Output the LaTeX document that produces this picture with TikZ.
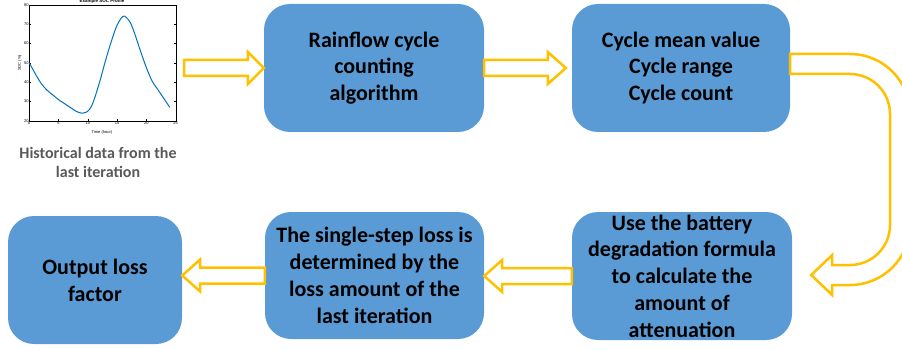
\documentclass[tikz,border=0pt]{standalone}
\usepackage{fontspec}
\setmainfont{Carlito}
\newfontfamily\plotfont{Liberation Sans}
\usetikzlibrary{calc}
\definecolor{boxblue}{HTML}{5B9BD5}
\definecolor{arrowgold}{HTML}{FFC000}
\definecolor{capgray}{HTML}{595959}
\definecolor{mblue}{HTML}{0072BD}
\begin{document}
\begin{tikzpicture}[x=1pt,y=-1pt,
  box/.style={fill=boxblue, draw=none, rounded corners=26pt, inner sep=0pt,
    font=\fontsize{22}{26.8}\selectfont\bfseries, align=center, text=black},
  boxtext/.style={inner sep=0pt, font=\fontsize{22}{26.8}\selectfont\bfseries, align=center, text=black},
  barrow/.style={draw=arrowgold, line width=2.5pt, fill=white, line join=miter},
  ticklab/.style={font=\plotfont\fontsize{4}{5}\selectfont, inner sep=0.6pt},
]
\useasboundingbox (0,0) rectangle (902,350);

% ---- plot ----
\begin{scope}[shift={(29.3pt,-121pt)}, x=5.856pt, y=1.938pt]
  \draw[line width=0.4pt] (0,0) rectangle (25,60);
  \foreach \t in {0,5,...,25} {
    \draw[line width=0.3pt] (\t,0) -- (\t,0.8) (\t,60) -- (\t,59.2);
    \node[ticklab, anchor=north] at (\t,0) {\t};
  }
  \foreach \s/\l in {0/20,10/30,20/40,30/50,40/60,50/70,60/80} {
    \draw[line width=0.3pt] (0,\s) -- (0.26,\s) (25,\s) -- (24.74,\s);
    \node[ticklab, anchor=east] at (0,\s) {\l};
  }
  \node[ticklab, rotate=90] (ylab) at (-1.6,30) {SOC (\%)};
  \node[ticklab] (xlab) at (12.4,-5.7) {Time (hour)};
  \node[ticklab, font=\plotfont\fontsize{4.5}{5}\selectfont\bfseries] (title) at (12.4,61.6) {Example SOC Profile};
  \draw[mblue, line width=1pt, line join=round] plot[smooth, tension=0.6] coordinates {
    (0,30) (1,24.5) (2,19.5) (3,16) (4,13.5) (5,11) (6,9) (7,7) (8,5) (9,4) (9.6,4.4)
    (10.3,6) (11,10.5) (12,20) (13,31) (14,41) (15,49.5) (16,54) (16.6,53.3) (17.3,50.5)
    (18,45) (19,36) (20,27.5) (21,20.5) (22,16) (23,11.5) (24,7)};
\end{scope}

\node[font=\fontsize{16}{19.5}\selectfont\bfseries, text=capgray, align=center, inner sep=0pt]
  (cap) at (98,162.5) {Historical data from the\\last iteration};

% ---- boxes ----
\node[box, minimum width=220pt, minimum height=128pt] (b1) at (374,68) {Rainflow cycle\\counting\\algorithm};
\node[box, minimum width=218pt, minimum height=128pt] (b2) at (681,68) {Cycle mean value\\Cycle range\\Cycle count};
\node[box, minimum width=220pt, minimum height=128pt] (b3) at (682,276) {};
\node[boxtext] (b3t) at (b3) {Use the battery\\degradation formula\\to calculate the\\amount of\\attenuation};
\node[box, minimum width=219pt, minimum height=127pt] (b4) at (374.5,275.5) {The single-step loss is\\determined by the\\loss amount of the\\last iteration};
\node[box, minimum width=174pt, minimum height=128pt] (b5) at (95,280) {Output loss\\factor};

% ---- block arrows ----
\coordinate (a0) at (184,68);
\draw[barrow] ($(a0)+(0,-8)$) -- ($(b1.west)+(-16,-8)$) -- ($(b1.west)+(-16,-16)$) -- (b1.west)
  -- ($(b1.west)+(-16,16)$) -- ($(b1.west)+(-16,8)$) -- ($(a0)+(0,8)$) -- cycle;

\coordinate (t12) at ($(b2.west)+(-6,0)$);
\draw[barrow] ($(b1.east)+(0,-8)$) -- ($(t12)+(-18,-8)$) -- ($(t12)+(-18,-16)$) -- (t12)
  -- ($(t12)+(-18,16)$) -- ($(t12)+(-18,8)$) -- ($(b1.east)+(0,8)$) -- cycle;

\coordinate (t34) at (b4.east |- b3.west);
\draw[barrow] ($(b3.west)+(0,-8)$) -- ($(t34)+(18,-8)$) -- ($(t34)+(18,-16)$) -- (t34)
  -- ($(t34)+(18,16)$) -- ($(t34)+(18,8)$) -- ($(b3.west)+(0,8)$) -- cycle;

\coordinate (t45) at (b5.east |- b4.west);
\draw[barrow] ($(b4.west)+(0,-8)$) -- ($(t45)+(18,-8)$) -- ($(t45)+(18,-16)$) -- (t45)
  -- ($(t45)+(18,16)$) -- ($(t45)+(18,8)$) -- ($(b4.west)+(0,8)$) -- cycle;

\coordinate (t23) at ($(b3.east)+(19,-1)$);
\draw[barrow] ($(b2.east)+(0,-14)$) [rounded corners=60pt] -- (910,54) -- (910,285)
  [sharp corners] -- ($(t23)+(21,10)$) -- ($(t23)+(21,20)$) -- (t23)
  -- ($(t23)+(21,-20)$) -- ($(t23)+(21,-10)$) [rounded corners=40pt]
  -- (890,265) -- (890,74) [sharp corners] -- ($(b2.east)+(0,6)$) -- cycle;
\end{tikzpicture}
\end{document}
